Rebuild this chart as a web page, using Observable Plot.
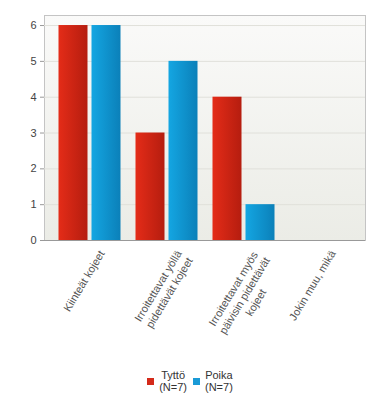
<!DOCTYPE html>
<html><head><meta charset="utf-8">
<script src="https://cdn.jsdelivr.net/npm/d3@7"></script>
<script src="https://cdn.jsdelivr.net/npm/@observablehq/plot@0.6"></script>
<style>
body{margin:0;background:#fff;font-family:"Liberation Sans",Arial,sans-serif;}
#chart svg{display:block;}
#legend{display:flex;justify-content:center;align-items:center;margin-top:14px;font-size:11px;color:#333;line-height:12px;}
.item{display:flex;align-items:center;margin:0 3px;}
.sw{width:7px;height:7px;margin-right:5px;}
.lt{text-align:center;}
</style></head><body>
<div id="chart"></div>
<div id="legend"></div>
<script>
const categories = ["Kiinteät kojeet","Irroitettavat yöllä\npidettävät kojeet","Irroitettavat myös\npäivisin pidettävät\nkojeet","Jokin muu, mikä"];
const seriesNames = ["Tyttö","Poika"];
const seriesN = ["(N=7)","(N=7)"];
const seriesColors = ["#d42a1a","#1a9ad6"];
const tytto = [6,3,4,0];
const poika = [6,5,1,0];
const yTicks = [0,1,2,3,4,5,6];

const W = 380, H = 355;
const defs = () => {
  const d = d3.create("svg:defs");
  const g1 = d.append("linearGradient").attr("id","redGrad").attr("x1","0").attr("x2","1").attr("y1","0").attr("y2","0");
  g1.append("stop").attr("offset","0").attr("stop-color","#e42c18");
  g1.append("stop").attr("offset","1").attr("stop-color","#b51d0f");
  const g2 = d.append("linearGradient").attr("id","blueGrad").attr("x1","0").attr("x2","1").attr("y1","0").attr("y2","0");
  g2.append("stop").attr("offset","0").attr("stop-color","#14a6e2");
  g2.append("stop").attr("offset","1").attr("stop-color","#0b80b9");
  const g3 = d.append("linearGradient").attr("id","bgGrad").attr("x1","0").attr("x2","0").attr("y1","0").attr("y2","1");
  g3.append("stop").attr("offset","0").attr("stop-color","#fafaf9");
  g3.append("stop").attr("offset","1").attr("stop-color","#ebece6");
  return d.node();
};

const plot = Plot.plot({
  width: W, height: H,
  marginLeft: 44, marginRight: 15, marginTop: 15, marginBottom: H - 240,
  style: {fontFamily: "Liberation Sans, Arial, sans-serif", fontSize: "11px", background: "transparent"},
  x: {domain: categories, insetLeft: 6.5, insetRight: 6.5, padding: 0, axis: null},
  y: {domain: [0, 6.28], axis: null},
  marks: [
    defs,
    Plot.frame({fill: "url(#bgGrad)", stroke: "#c4c4c4"}),
    Plot.gridY(yTicks.slice(1), {stroke: "#e0e0da", strokeOpacity: 1}),
    Plot.barY(categories, {x: d => d, y: (d, i) => tytto[i], fill: "url(#redGrad)", insetLeft: 7.5, insetRight: 40.5}),
    Plot.barY(categories, {x: d => d, y: (d, i) => poika[i], fill: "url(#blueGrad)", insetLeft: 40.5, insetRight: 7.5}),
    Plot.ruleY([0], {stroke: "#999"}),
    Plot.axisY(yTicks, {tickSize: 4, tickPadding: 4, stroke: "#999", fill: "#444", fontSize: 11}),
    Plot.text(categories, {x: d => d, frameAnchor: "bottom", rotate: -59, textAnchor: "middle", lineAnchor: "top", lineHeight: 1.2, dx: 7, dy: 8, fill: "#555", fontSize: 11, className: "xlab"})
  ]
});
document.getElementById("chart").appendChild(plot);

// center-align lines within each label, with the longest line ending at the anchor
plot.querySelectorAll("g.xlab text").forEach(t => {
  const spans = t.querySelectorAll("tspan");
  if (spans.length) {
    let L = 0;
    spans.forEach(s => { L = Math.max(L, s.getComputedTextLength()); });
    spans.forEach(s => s.setAttribute("x", -L / 2));
  } else {
    const L = t.getComputedTextLength();
    t.setAttribute("x", -L / 2);
  }
});

const leg = document.getElementById("legend");
seriesNames.forEach((n, i) => {
  const it = document.createElement("div"); it.className = "item";
  const sw = document.createElement("div"); sw.className = "sw"; sw.style.background = seriesColors[i];
  const lt = document.createElement("div"); lt.className = "lt";
  lt.innerHTML = n + "<br>" + seriesN[i];
  it.appendChild(sw); it.appendChild(lt); leg.appendChild(it);
});
</script>
</body></html>
